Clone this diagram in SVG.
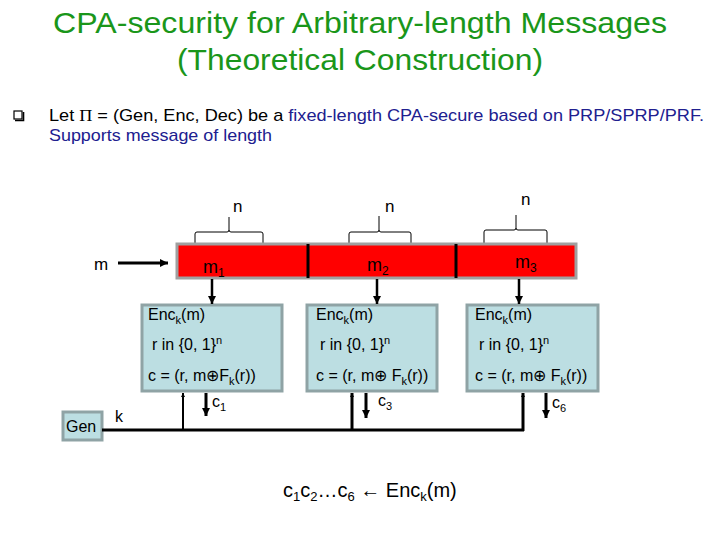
<svg xmlns="http://www.w3.org/2000/svg" width="720" height="540" viewBox="0 0 720 540">
<style>
text{font-family:"Liberation Sans",Arial,sans-serif;fill:#000}
.title{font-size:29px;fill:#1A961A}
.bl{font-size:17px}
.blue{fill:#20208F}
.lbl{font-size:17px}
.bx{font-size:16px}
.enc{fill:#BCDEE2;stroke:#8FA3A5;stroke-width:3}
.brace{fill:none;stroke:#000;stroke-width:1}
.ln{stroke:#000;fill:none}
</style>
<defs>
<marker id="ah" viewBox="0 0 10 10" refX="10" refY="5" markerWidth="9" markerHeight="8" markerUnits="userSpaceOnUse" orient="auto"><path d="M0,0 L10,5 L0,10 z" fill="#000"/></marker>
<marker id="ahs" viewBox="0 0 10 10" refX="10" refY="5" markerWidth="4" markerHeight="7" markerUnits="userSpaceOnUse" orient="auto"><path d="M0,0 L10,5 L0,10 z" fill="#000"/></marker>
</defs>
<rect width="720" height="540" fill="#fff"/>
<g id="title">
<text class="title" x="53" y="33" textLength="614" lengthAdjust="spacingAndGlyphs">CPA-security for Arbitrary-length Messages</text>
<text class="title" x="177" y="70" textLength="366" lengthAdjust="spacingAndGlyphs">(Theoretical Construction)</text>
</g>
<g id="bullet">
<rect x="14" y="111" width="8" height="8" fill="none" stroke="#000" stroke-width="1.2"/>
<path d="M15,120.5 H23.5 V112" fill="none" stroke="#000" stroke-width="1.6"/>
<text class="bl" x="49" y="121" textLength="655" lengthAdjust="spacingAndGlyphs">Let <tspan font-family="Liberation Serif,serif">Π</tspan> = (Gen, Enc, Dec) be a <tspan class="blue">fixed-length CPA-secure based on PRP/SPRP/PRF.</tspan></text>
<text class="bl blue" x="49" y="141" textLength="223" lengthAdjust="spacingAndGlyphs">Supports message of length</text>
</g>
<g id="msg">
<text class="lbl" x="94" y="270">m</text>
</g>
<g id="braces">
<path class="brace" d="M195,245 V234 Q195,232 197,232 H227 Q229,232 229,230 V217 M229,230 Q229,232 231,232 H261 Q263,232 263,234 V245"/>
<path class="brace" d="M349,245 V234 Q349,232 351,232 H377 Q379,232 379,230 V216 M379,230 Q379,232 381,232 H409 Q411,232 411,234 V245"/>
<path class="brace" d="M484,245 V232 Q484,230 486,230 H514 Q516,230 516,228 V215 M516,228 Q516,230 518,230 H545 Q547,230 547,232 V245"/>
<text class="lbl" x="233" y="212">n</text>
<text class="lbl" x="385" y="212">n</text>
<text class="lbl" x="521" y="205">n</text>
</g>
<g id="bar">
<rect x="177" y="244" width="399" height="34" fill="#FF0000" stroke="#A0A0A0" stroke-width="3"/>
<line x1="308" y1="244" x2="308" y2="278" stroke="#000" stroke-width="3"/>
<line x1="456" y1="244" x2="456" y2="278" stroke="#000" stroke-width="3"/>
<text x="203" y="273" font-size="18">m<tspan font-size="12" dy="4">1</tspan></text>
<text x="367" y="271" font-size="18">m<tspan font-size="12" dy="4">2</tspan></text>
<text x="515" y="268" font-size="18">m<tspan font-size="12" dy="4">3</tspan></text>
</g>
<g id="enc1">
<rect class="enc" x="142" y="305" width="140" height="86"/>
<text class="bx" x="148" y="320">Enc<tspan font-size="11" dy="4">k</tspan><tspan dy="-4">(m)</tspan></text>
<text class="bx" x="152" y="350">r in {0, 1}<tspan font-size="11" dy="-6">n</tspan></text>
<text class="bx" x="148" y="381">c = (r, m⊕F<tspan font-size="11" dy="4">k</tspan><tspan dy="-4">(r))</tspan></text>
</g>
<g id="enc2">
<rect class="enc" x="307" y="305" width="130" height="86"/>
<text class="bx" x="316" y="320">Enc<tspan font-size="11" dy="4">k</tspan><tspan dy="-4">(m)</tspan></text>
<text class="bx" x="320" y="350">r in {0, 1}<tspan font-size="11" dy="-6">n</tspan></text>
<text class="bx" x="316" y="381">c = (r, m⊕ F<tspan font-size="11" dy="4">k</tspan><tspan dy="-4">(r))</tspan></text>
</g>
<g id="enc3">
<rect class="enc" x="467" y="305" width="131" height="86"/>
<text class="bx" x="475" y="320">Enc<tspan font-size="11" dy="4">k</tspan><tspan dy="-4">(m)</tspan></text>
<text class="bx" x="479" y="350">r in {0, 1}<tspan font-size="11" dy="-6">n</tspan></text>
<text class="bx" x="475" y="381">c = (r, m⊕ F<tspan font-size="11" dy="4">k</tspan><tspan dy="-4">(r))</tspan></text>
</g>
<g id="gen">
<rect class="enc" x="63" y="412" width="39" height="28"/>
<text class="bx" x="66" y="432">Gen</text>
</g>
<g id="connectors">
<line class="ln" x1="118" y1="263" x2="168" y2="263" stroke-width="3" marker-end="url(#ah)"/>
<line class="ln" x1="212" y1="279" x2="212" y2="304" stroke-width="2.5" marker-end="url(#ah)"/>
<line class="ln" x1="377" y1="279" x2="377" y2="304" stroke-width="2.5" marker-end="url(#ah)"/>
<line class="ln" x1="519" y1="279" x2="519" y2="304" stroke-width="2.5" marker-end="url(#ah)"/>
<line class="ln" x1="102" y1="430" x2="524" y2="430" stroke-width="3"/>
<line class="ln" x1="183" y1="431" x2="183" y2="393" stroke-width="2" marker-end="url(#ahs)"/>
<line class="ln" x1="352" y1="431" x2="352" y2="393" stroke-width="3" marker-end="url(#ahs)"/>
<line class="ln" x1="523" y1="431" x2="523" y2="393" stroke-width="3" marker-end="url(#ahs)"/>
<line class="ln" x1="206" y1="393" x2="206" y2="416" stroke-width="3" marker-end="url(#ah)"/>
<line class="ln" x1="366" y1="393" x2="366" y2="418" stroke-width="3" marker-end="url(#ah)"/>
<line class="ln" x1="546" y1="393" x2="546" y2="418" stroke-width="3" marker-end="url(#ah)"/>
<text class="bx" x="115" y="422">k</text>
<text class="bx" x="212" y="407">c<tspan font-size="11" dy="4">1</tspan></text>
<text class="bx" x="378" y="406">c<tspan font-size="11" dy="4">3</tspan></text>
<text class="bx" x="552" y="408">c<tspan font-size="11" dy="4">6</tspan></text>
</g>
<g id="result">
<text x="283" y="497" font-size="20">c<tspan font-size="13" dy="4">1</tspan><tspan dy="-4">c</tspan><tspan font-size="13" dy="4">2</tspan><tspan dy="-4">…c</tspan><tspan font-size="13" dy="4">6</tspan><tspan dy="-4"> ← Enc</tspan><tspan font-size="13" dy="4">k</tspan><tspan dy="-4">(m)</tspan></text>
</g>
</svg>
